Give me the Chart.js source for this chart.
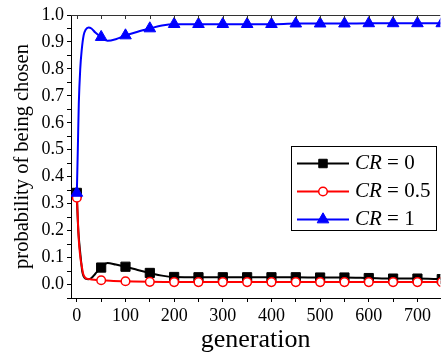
<!DOCTYPE html>
<html><head><meta charset="utf-8">
<script src="https://cdn.jsdelivr.net/npm/chart.js@4/dist/chart.umd.min.js"></script>
<style>html,body{margin:0;padding:0;background:#fff}#wrap{width:448px;height:356px}</style>
</head><body><div id="wrap"><canvas id="c" width="448" height="356"></canvas></div>
<script>
// ---- data ----
const seriesNames = ['0', '0.5', '1'];
const markerGens = [0,50,100,150,200,250,300,350,400,450,500,550,600,650,700,750];

const blackGen = [0,1,3,5,8,11,14,18,24,30,38,50,63,80,100,125,150,175,200,250,300,350,400,450,500,550,600,650,700,750];
const blackVal = [0.34,0.28,0.2,0.155,0.1,0.05,0.03,0.022,0.02,0.024,0.04,0.063,0.08,0.074,0.066,0.054,0.043,0.033,0.028,0.027,0.027,0.027,0.027,0.027,0.026,0.026,0.024,0.022,0.022,0.02];

const redGen = [0,1,3,5,8,10,13,17,22,30,40,50,75,100,150,200,250,300,350,400,450,500,550,600,650,700,750];
const redVal = [0.322,0.29,0.2,0.14,0.09,0.07,0.04,0.026,0.021,0.019,0.017,0.016,0.013,0.012,0.01,0.009,0.009,0.009,0.009,0.009,0.009,0.009,0.009,0.009,0.009,0.009,0.009];

const blueGen = [0,2,4,7,10,14,18,24,30,38,50,63,80,100,125,150,175,200,250,300,350,400,450,500,550,600,650,700,750];
const blueVal = [0.34,0.5,0.67,0.8,0.87,0.925,0.945,0.954,0.95,0.935,0.918,0.904,0.91,0.924,0.938,0.95,0.961,0.966,0.966,0.966,0.966,0.966,0.968,0.968,0.968,0.969,0.969,0.969,0.969];

const xTickValues = [0,50,100,150,200,250,300,350,400,450,500,550,600,650,700];
const xTickLabels = ['0','','100','','200','','300','','400','','500','','600','','700'];
const yTickValues = [-0.05,0,0.05,0.1,0.15,0.2,0.25,0.3,0.35,0.4,0.45,0.5,0.55,0.6,0.65,0.7,0.75,0.8,0.85,0.9,0.95,1.0];
const yTickLabels = ['','0.0','','0.1','','0.2','','0.3','','0.4','','0.5','','0.6','','0.7','','0.8','','0.9','','1.0'];

const FONT = 'Liberation Serif';
const toPts = (g, v) => g.map((x, i) => ({x: x, y: v[i]}));
const markerRadius = r => (c => (c.raw && markerGens.includes(c.raw.x)) ? r : 0);

const frame = {
  id: 'frame',
  afterDatasetsDraw(chart) {
    const ctx = chart.ctx, a = chart.chartArea, xs = chart.scales.x;
    ctx.save();
    ctx.strokeStyle = '#333';
    ctx.lineWidth = 1;
    ctx.beginPath();
    ctx.moveTo(a.left, a.top + 0.5);
    ctx.lineTo(a.right, a.top + 0.5);
    xTickValues.forEach(v => {
      const px = Math.round(xs.getPixelForValue(v)) + 0.5;
      ctx.moveTo(px, a.top);
      ctx.lineTo(px, a.top + 4);
    });
    ctx.stroke();

    // legend box
    const bx = 291.5, by = 146.5, bw = 145, bh = 84;
    ctx.fillStyle = '#fff';
    ctx.fillRect(bx, by, bw, bh);
    ctx.strokeStyle = '#000';
    ctx.strokeRect(bx, by, bw, bh);
    const rowY = [163.5, 191.5, 219.5];
    [0, 1, 2].forEach(i => {
      const ds = chart.data.datasets[i];
      const y = rowY[i];
      ctx.strokeStyle = ds.borderColor;
      ctx.lineWidth = 2;
      ctx.beginPath();
      ctx.moveTo(297, y);
      ctx.lineTo(349, y);
      ctx.stroke();
      ctx.fillStyle = ds.pointBackgroundColor;
      ctx.strokeStyle = ds.pointBorderColor;
      ctx.lineWidth = ds.pointBorderWidth;
      Chart.helpers.drawPoint(ctx, {pointStyle: ds.pointStyle, radius: ds.legendRadius, rotation: 0, borderWidth: ds.pointBorderWidth}, 323, y);
      ctx.fillStyle = '#000';
      ctx.textBaseline = 'middle';
      ctx.textAlign = 'left';
      ctx.font = 'italic 21px "' + FONT + '"';
      ctx.fillText('CR', 355, y);
      const w = ctx.measureText('CR').width;
      ctx.font = '21px "' + FONT + '"';
      ctx.fillText(' = ' + seriesNames[i], 355 + w, y);
    });
    ctx.restore();
  }
};

new Chart(document.getElementById('c'), {
  type: 'line',
  data: {
    datasets: [
      {label: 'CR = ' + seriesNames[0], data: toPts(blackGen, blackVal), borderColor: '#000000', backgroundColor: '#000000',
       pointBackgroundColor: '#000000', pointBorderColor: '#000000', pointStyle: 'rect', pointRadius: markerRadius(6.5), legendRadius: 6,
       pointBorderWidth: 1, borderWidth: 2, cubicInterpolationMode: 'monotone', order: 2},
      {label: 'CR = ' + seriesNames[1], data: toPts(redGen, redVal), borderColor: '#ff0000', backgroundColor: '#ffffff',
       pointBackgroundColor: '#ffffff', pointBorderColor: '#ff0000', pointStyle: 'circle', pointRadius: markerRadius(4.3), legendRadius: 4.3,
       pointBorderWidth: 1.5, borderWidth: 2, cubicInterpolationMode: 'monotone', order: 1},
      {label: 'CR = ' + seriesNames[2], data: toPts(blueGen, blueVal), borderColor: '#0000ff', backgroundColor: '#0000ff',
       pointBackgroundColor: '#0000ff', pointBorderColor: '#0000ff', pointStyle: 'triangle', pointRadius: markerRadius(6.7), legendRadius: 6.7,
       pointBorderWidth: 1, borderWidth: 2, cubicInterpolationMode: 'monotone', order: 0}
    ]
  },
  options: {
    responsive: false,
    animation: false,
    devicePixelRatio: 1,
    layout: {padding: {top: 15, right: 0, left: 0, bottom: 0}},
    plugins: {legend: {display: false}, tooltip: {enabled: false}},
    scales: {
      x: {
        type: 'linear', min: -12, max: 747,
        afterBuildTicks: s => { s.ticks = xTickValues.map(v => ({value: v})); },
        afterFit: s => { s.height = 58; },
        grid: {drawOnChartArea: false, drawTicks: true, tickLength: 4, color: '#000', tickColor: '#000'},
        border: {color: '#000', width: 1},
        ticks: {autoSkip: false, maxRotation: 0, padding: 3, color: '#000', font: {family: FONT, size: 18},
                callback: (v, i) => xTickLabels[i]},
        title: {display: true, text: 'generation', color: '#000', font: {family: FONT, size: 26}, padding: 0}
      },
      y: {
        type: 'linear', min: -0.05, max: 1.0,
        afterBuildTicks: s => { s.ticks = yTickValues.map(v => ({value: v})); },
        afterFit: s => { s.width = 71; },
        grid: {drawOnChartArea: false, drawTicks: true, tickLength: 4, color: '#000', tickColor: '#000'},
        border: {color: '#000', width: 1},
        ticks: {autoSkip: false, padding: 3, color: '#000', font: {family: FONT, size: 18},
                callback: (v, i) => yTickLabels[i]},
        title: {display: true, text: 'probability of being chosen', color: '#000', font: {family: FONT, size: 20.5}, padding: {top: 10, bottom: 0}}
      }
    }
  },
  plugins: [frame]
});
</script>
</body></html>
